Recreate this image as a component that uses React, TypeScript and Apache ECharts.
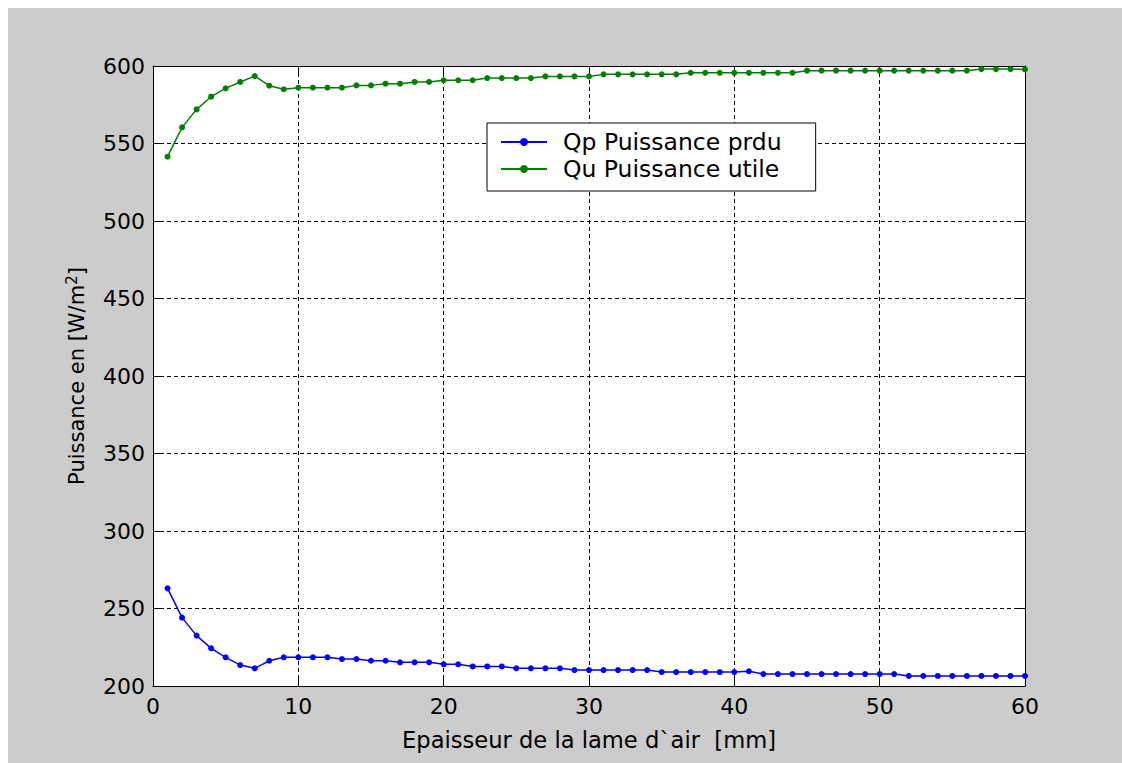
import { useEffect, useRef } from "react";
import * as echarts from "echarts";

const thickness = [
  1, 2, 3, 4, 5, 6, 7, 8, 9, 10, 11, 12, 13, 14, 15, 16, 17, 18, 19, 20,
  21, 22, 23, 24, 25, 26, 27, 28, 29, 30, 31, 32, 33, 34, 35, 36, 37, 38, 39, 40,
  41, 42, 43, 44, 45, 46, 47, 48, 49, 50, 51, 52, 53, 54, 55, 56, 57, 58, 59, 60,
];

const qpPerdue = [
  263, 244.1, 232.5, 224.3, 218.5, 213.5, 211.4, 216.3, 218.5, 218.5,
  218.5, 218.5, 217.4, 217.4, 216.3, 216.3, 215.3, 215.3, 215.3, 214,
  214, 212.6, 212.6, 212.6, 211.4, 211.4, 211.4, 211.4, 210.3, 210.3,
  210.3, 210.3, 210.3, 210.3, 209, 209, 209, 209, 209, 209,
  209.5, 207.7, 207.7, 207.7, 207.7, 207.7, 207.7, 207.7, 207.7, 207.7,
  207.7, 206.5, 206.5, 206.5, 206.5, 206.5, 206.5, 206.5, 206.5, 206.5,
];

const quUtile = [
  541.5, 560.4, 572, 580.2, 585.6, 589.7, 593.5, 587.3, 585, 586,
  586, 586, 586, 587.5, 587.5, 588.6, 588.6, 589.7, 589.7, 590.8,
  590.8, 590.8, 592.2, 592.2, 592.2, 592.2, 593.3, 593.3, 593.3, 593.3,
  594.6, 594.6, 594.6, 594.6, 594.6, 594.6, 595.6, 595.6, 595.6, 595.6,
  595.6, 595.6, 595.6, 595.6, 597, 597, 597, 597, 597, 597,
  597, 597, 597, 597, 597, 597, 598, 598, 598, 597.8,
];

const seriesNames = ["Qp Puissance prdu", "Qu Puissance utile"];
const xName = "Epaisseur de la lame d`air  [mm]";

export default function App() {
  const ref = useRef<HTMLDivElement>(null);
  useEffect(() => {
    const chart = echarts.init(ref.current!, null, { renderer: "svg" });
    const font = "DejaVu Sans";
    const txt = { fontFamily: font, fontSize: 22, color: "#000" };
    const axisLine = { show: true, onZero: false, lineStyle: { color: "#000", width: 1 } };
    const axisTick = { show: true, inside: true, length: 9, lineStyle: { color: "#000", width: 1 } };
    const splitLine = { show: true, lineStyle: { color: "#000", width: 1, type: [4, 3] } };
    chart.setOption({
      animation: false,
      backgroundColor: "#cccccc",
      grid: {
        left: 145,
        top: 58,
        right: 97,
        bottom: 77,
        show: true,
        backgroundColor: "#ffffff",
        borderWidth: 0,
      },
      legend: {
        orient: "vertical",
        left: 479,
        top: 115,
        backgroundColor: "#ffffff",
        borderColor: "#000",
        borderWidth: 1,
        borderRadius: 0,
        padding: [7, 34, 10, 13],
        itemWidth: 46,
        itemHeight: 10,
        itemGap: 3,
        textStyle: { ...txt, fontSize: 23.5, lineHeight: 22, padding: [0, 0, 0, 11] },
        data: seriesNames,
      },
      xAxis: [
        {
          type: "value",
          min: 0,
          max: 60,
          interval: 10,
          position: "bottom",
          axisLine,
          axisTick,
          splitLine,
          axisLabel: { ...txt, margin: 9 },
          name: xName,
          nameLocation: "middle",
          nameGap: 42,
          nameTextStyle: { ...txt, fontSize: 22.6 },
        },
        {
          type: "value",
          min: 0,
          max: 60,
          interval: 10,
          position: "top",
          axisLine,
          axisTick,
          splitLine: { show: false },
          axisLabel: { show: false },
        },
      ],
      yAxis: [
        {
          type: "value",
          min: 200,
          max: 600,
          interval: 50,
          position: "left",
          axisLine,
          axisTick,
          splitLine,
          axisLabel: { ...txt, margin: 8 },
          name: "{a|Puissance en [W/m}{b|2}{a|]}",
          nameLocation: "middle",
          nameGap: 64,
          nameTextStyle: {
            rich: {
              a: { ...txt, fontSize: 21 },
              b: { fontFamily: font, fontSize: 15, color: "#000", verticalAlign: "top", padding: [0, 0, 10, 0] },
            },
          },
        },
        {
          type: "value",
          min: 200,
          max: 600,
          interval: 50,
          position: "right",
          axisLine,
          axisTick,
          splitLine: { show: false },
          axisLabel: { show: false },
        },
      ],
      series: [
        {
          name: seriesNames[0],
          type: "line",
          xAxisIndex: 0,
          yAxisIndex: 0,
          data: thickness.map((x, i) => [x, qpPerdue[i]]),
          symbol: "circle",
          symbolSize: 6,
          color: "#0000ff",
          lineStyle: { color: "#0000ff", width: 1.5 },
          itemStyle: { color: "#0000ff" },
        },
        {
          name: seriesNames[1],
          type: "line",
          xAxisIndex: 0,
          yAxisIndex: 0,
          data: thickness.map((x, i) => [x, quUtile[i]]),
          symbol: "circle",
          symbolSize: 6,
          color: "#008000",
          lineStyle: { color: "#008000", width: 1.5 },
          itemStyle: { color: "#008000" },
        },
      ],
    });
    return () => chart.dispose();
  }, []);
  return (
    <div
      ref={ref}
      style={{ position: "fixed", left: 8, top: 8, width: 1114, height: 755, background: "#cccccc" }}
    />
  );
}
